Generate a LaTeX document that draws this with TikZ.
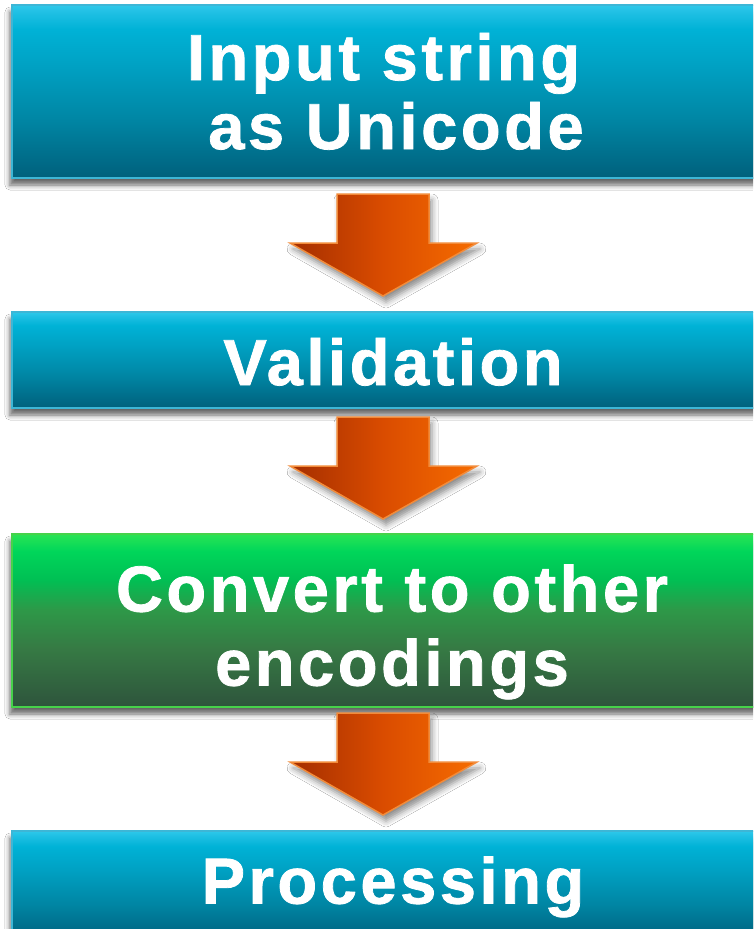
\documentclass[tikz,border=0pt]{standalone}
\usepackage{fontspec}
\newfontfamily\boxfont[LetterSpace=5.5,FakeBold=1.2]{Liberation Sans}
\usetikzlibrary{calc,shadows.blur}
\definecolor{cyanborder}{HTML}{3DB6D6}
\definecolor{greenborder}{HTML}{46D24A}
\definecolor{arrowborder}{HTML}{F28B3A}
\pgfdeclareverticalshading{cyanshade}{100bp}{%
  color(0bp)=(rgb,255:red,0;green,96;blue,124);
  color(25bp)=(rgb,255:red,0;green,96;blue,124);
  color(42bp)=(rgb,255:red,0;green,134;blue,164);
  color(58bp)=(rgb,255:red,0;green,162;blue,196);
  color(68bp)=(rgb,255:red,0;green,178;blue,214);
  color(73bp)=(rgb,255:red,32;green,192;blue,228);
  color(75bp)=(rgb,255:red,46;green,200;blue,234);
  color(100bp)=(rgb,255:red,46;green,200;blue,234)}
\pgfdeclareverticalshading{greenshade}{100bp}{%
  color(0bp)=(rgb,255:red,46;green,84;blue,60);
  color(25bp)=(rgb,255:red,46;green,84;blue,60);
  color(42bp)=(rgb,255:red,54;green,122;blue,68);
  color(53bp)=(rgb,255:red,46;green,152;blue,72);
  color(62bp)=(rgb,255:red,0;green,192;blue,84);
  color(70bp)=(rgb,255:red,0;green,214;blue,90);
  color(75bp)=(rgb,255:red,42;green,228;blue,84);
  color(100bp)=(rgb,255:red,42;green,228;blue,84)}
\pgfdeclarehorizontalshading{orangeshade}{100bp}{%
  color(0bp)=(rgb,255:red,164;green,46;blue,0);
  color(25bp)=(rgb,255:red,164;green,46;blue,0);
  color(50bp)=(rgb,255:red,218;green,76;blue,0);
  color(75bp)=(rgb,255:red,246;green,108;blue,0);
  color(100bp)=(rgb,255:red,246;green,108;blue,0)}
\tikzset{
  boxshadow/.style={blur shadow={shadow xshift=-2pt, shadow yshift=-7pt, shadow blur radius=5pt, shadow opacity=60}},
  cyanbox/.style={rectangle, draw=cyanborder, line width=2pt, shading=cyanshade, minimum width=748pt, inner sep=0pt, boxshadow},
  greenbox/.style={rectangle, draw=greenborder, line width=2pt, shading=greenshade, minimum width=748pt, inner sep=0pt, boxshadow},
  boxtext/.style={text=white, inner sep=0pt, text depth=0pt, align=center},
  orangearrow/.style={draw=arrowborder, line width=1.5pt, line join=miter, shading=orangeshade,
    blur shadow={shadow xshift=3pt, shadow yshift=-6pt, shadow blur radius=6pt, shadow opacity=45}}
}
\newcommand\blockarrow[2]{%
  \path[orangearrow] ($(#1)+(-46,0)$) -- ($(#1)+(46,0)$) -- ($(#2)+(46,-53)$) -- ($(#2)+(94,-53)$)
    -- (#2) -- ($(#2)+(-93,-53)$) -- ($(#2)+(-46,-53)$) -- cycle;}
\begin{document}
\begin{tikzpicture}[x=1pt,y=-1pt]
\clip (0,0) rectangle (753,929);
\fill[white] (0,0) rectangle (753,929);
% boxes
\node[cyanbox, minimum height=173pt] (b1) at (386,91.5) {};
\node[cyanbox, minimum height=96pt] (b2) at (386,360) {};
\node[greenbox, minimum height=173pt] (b3) at (386,620.5) {};
\node[cyanbox, minimum height=110pt] (b4) at (386,886) {};
% texts
\node[boxtext, font=\boxfont\bfseries\fontsize{65}{69}\selectfont] (t1) at (383.5,91) {Input string\\\hspace*{25pt}as Unicode};
\node[boxtext, font=\boxfont\bfseries\fontsize{65}{69}\selectfont] (t2) at (393,361.5) {Validation};
\node[boxtext, font=\boxfont\bfseries\fontsize{65}{74}\selectfont] (t3) at (392,625) {Convert to other\\encodings};
\node[boxtext, font=\boxfont\bfseries\fontsize{65}{69}\selectfont] (t4) at (393,880) {Processing};
% connectors
\coordinate (a1s) at ($(b1.south)+(-3,15)$);
\coordinate (a1e) at ($(b2.north)+(-3,-15)$);
\coordinate (a2s) at ($(b2.south)+(-3,8)$);
\coordinate (a2e) at ($(b3.north)+(-3,-14)$);
\coordinate (a3s) at ($(b3.south)+(-3,5)$);
\coordinate (a3e) at ($(b4.north)+(-3,-15)$);
\blockarrow{a1s}{a1e}
\blockarrow{a2s}{a2e}
\blockarrow{a3s}{a3e}
\end{tikzpicture}
\end{document}
